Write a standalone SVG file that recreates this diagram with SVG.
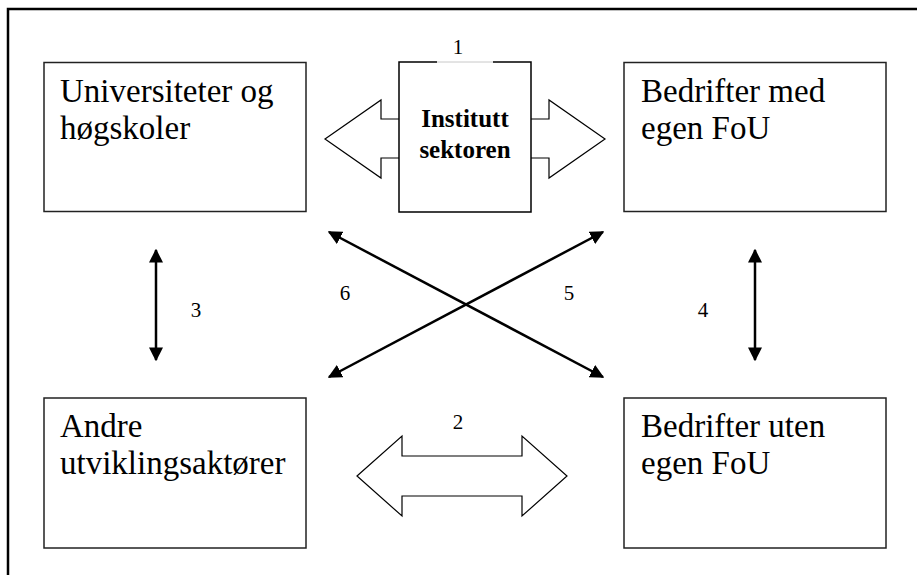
<svg xmlns="http://www.w3.org/2000/svg" width="917" height="575" viewBox="0 0 917 575">
<defs>
<style>
.box{fill:#fff;stroke:#222;stroke-width:1.5}
.lbl{font-family:"Liberation Serif","Times New Roman",serif;font-size:33px;fill:#000}
.num{font-family:"Liberation Serif","Times New Roman",serif;font-size:21px;fill:#000;text-anchor:middle}
.bold{font-family:"Liberation Serif","Times New Roman",serif;font-size:25px;font-weight:bold;fill:#000;text-anchor:middle}
.blk{fill:#fff;stroke:#000;stroke-width:1.2}
.con{stroke:#000;stroke-width:2.5;fill:none;marker-start:url(#ah);marker-end:url(#ah)}
</style>
<marker id="ah" viewBox="0 0 10 10" refX="9" refY="5" markerUnits="userSpaceOnUse" markerWidth="14" markerHeight="14" orient="auto-start-reverse">
<path d="M0,0 L10,5 L0,10 Z" fill="#000"/>
</marker>
</defs>
<rect width="917" height="575" fill="#fff"/>
<path d="M8,575 V9 H917" fill="none" stroke="#000" stroke-width="2.5"/>

<g id="connectors">
<line class="con" x1="156" y1="250" x2="156" y2="360"/>
<line class="con" x1="755" y1="250" x2="755" y2="360"/>
<line class="con" x1="329" y1="232" x2="603" y2="377"/>
<line class="con" x1="603" y1="232" x2="329" y2="377"/>
<path class="blk" d="M357,476 L402,436 L402,456 L522,456 L522,436 L567,476 L522,516 L522,496 L402,496 L402,516 Z"/>
<path class="blk" d="M399,119 L381,119 L381,100 L325,139 L381,178 L381,158 L399,158"/>
<path class="blk" d="M531,119 L549,119 L549,100 L605,139 L549,178 L549,158 L531,158"/>
<text class="num" x="196" y="317">3</text>
<text class="num" x="703" y="317">4</text>
<text class="num" x="345" y="300">6</text>
<text class="num" x="569" y="300">5</text>
<text class="num" x="458" y="429">2</text>
</g>

<g id="universiteter">
<rect class="box" x="44" y="62.5" width="262" height="149"/>
<text class="lbl" x="60" y="102">Universiteter og</text>
<text class="lbl" x="60" y="139">høgskoler</text>
</g>

<g id="instituttsektoren">
<rect x="399" y="62" width="132" height="150" fill="#fff"/>
<path d="M437,62 H399 V212 H531 V62 H493" fill="none" stroke="#000" stroke-width="1.5"/>
<line x1="437" y1="62" x2="493" y2="62" stroke="#c8c8c8" stroke-width="1"/>
<text class="num" x="458" y="54">1</text>
<text class="bold" x="465" y="127">Institutt</text>
<text class="bold" x="465" y="158">sektoren</text>
</g>

<g id="bedrifter-med">
<rect class="box" x="624" y="62.5" width="262" height="149"/>
<text class="lbl" x="641" y="102">Bedrifter med</text>
<text class="lbl" x="641" y="139">egen FoU</text>
</g>

<g id="andre">
<rect class="box" x="44" y="398" width="262" height="150"/>
<text class="lbl" x="60" y="437">Andre</text>
<text class="lbl" x="60" y="474">utviklingsaktører</text>
</g>

<g id="bedrifter-uten">
<rect class="box" x="624" y="398" width="262" height="150"/>
<text class="lbl" x="641" y="437">Bedrifter uten</text>
<text class="lbl" x="641" y="474">egen FoU</text>
</g>
</svg>
